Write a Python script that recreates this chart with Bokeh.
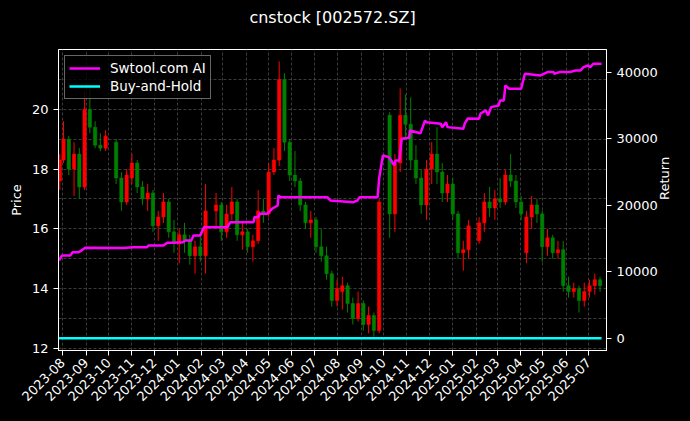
import math
from datetime import datetime
import pandas as pd
from bokeh.plotting import figure
from bokeh.models import (Range1d, LinearAxis, ColumnDataSource, SingleIntervalTicker, FixedTicker,
                          MonthsTicker, DatetimeTickFormatter, Legend, LegendItem, Title)
from bokeh.embed import file_html
from bokeh.resources import INLINE

# ---------------- data ----------------
week_dates = [
    "2023-07-28", "2023-08-02", "2023-08-09", "2023-08-16", "2023-08-23", "2023-08-30",
    "2023-09-06", "2023-09-13", "2023-09-20", "2023-09-27", "2023-10-11", "2023-10-18",
    "2023-10-25", "2023-11-01", "2023-11-08", "2023-11-15", "2023-11-22", "2023-11-29",
    "2023-12-06", "2023-12-13", "2023-12-20", "2023-12-27", "2024-01-03", "2024-01-10",
    "2024-01-17", "2024-01-24", "2024-01-31", "2024-02-07", "2024-02-21", "2024-02-28",
    "2024-03-06", "2024-03-13", "2024-03-20", "2024-03-27", "2024-04-03", "2024-04-10",
    "2024-04-17", "2024-04-24", "2024-05-01", "2024-05-08", "2024-05-15", "2024-05-22",
    "2024-05-29", "2024-06-05", "2024-06-12", "2024-06-19", "2024-06-26", "2024-07-03",
    "2024-07-10", "2024-07-17", "2024-07-24", "2024-07-31", "2024-08-07", "2024-08-14",
    "2024-08-21", "2024-08-28", "2024-09-04", "2024-09-11", "2024-09-18", "2024-09-25",
    "2024-10-09", "2024-10-16", "2024-10-23", "2024-10-30", "2024-11-06", "2024-11-13",
    "2024-11-20", "2024-11-27", "2024-12-04", "2024-12-11", "2024-12-18", "2024-12-25",
    "2025-01-01", "2025-01-08", "2025-01-15", "2025-01-22", "2025-02-05", "2025-02-12",
    "2025-02-19", "2025-02-26", "2025-03-05", "2025-03-12", "2025-03-19", "2025-03-26",
    "2025-04-02", "2025-04-09", "2025-04-16", "2025-04-23", "2025-04-30", "2025-05-07",
    "2025-05-14", "2025-05-21", "2025-05-28", "2025-06-04", "2025-06-11", "2025-06-18",
    "2025-06-25", "2025-07-02", "2025-07-09", "2025-07-16",
]
opens = [
    17.6, 18.3, 19.0, 18.0, 18.5, 17.4, 20.0, 19.4, 18.8, 18.7, 18.9, 17.7,
    16.9, 17.7, 18.2, 17.4, 17.0, 17.2, 16.1, 16.4, 16.9, 15.9, 15.5, 15.8,
    15.6, 15.1, 15.4, 15.1, 16.6, 16.8, 15.9, 16.5, 16.9, 15.8, 15.9, 15.4,
    15.6, 16.6, 16.5, 17.9, 18.3, 21.0, 18.9, 17.8, 17.6, 16.8, 16.2, 16.3,
    15.4, 15.1, 14.5, 13.6, 13.9, 14.1, 13.5, 13.0, 13.5, 12.8, 13.1, 12.6,
    19.8, 16.5, 18.2, 19.8, 19.5, 18.3, 17.7, 16.8, 18.0, 18.5, 17.9, 17.2,
    17.5, 16.5, 15.2, 15.3, 15.6, 16.2, 16.9, 16.7, 17.0, 16.9, 17.8, 17.6,
    16.9, 15.2, 16.4, 16.8, 16.5, 15.4, 15.7, 15.2, 15.3, 14.1, 13.9, 14.0,
    13.6, 13.9, 14.1, 14.3,
]
highs = [
    18.5, 19.6, 19.1, 18.9, 18.7, 20.6, 20.7, 19.6, 19.2, 19.3, 19.0, 17.9,
    18.0, 18.5, 18.3, 17.6, 17.5, 17.3, 16.6, 17.2, 17.0, 16.3, 16.0, 16.2,
    15.8, 15.6, 15.9, 17.5, 17.2, 16.9, 16.8, 17.4, 17.0, 16.2, 16.0, 15.8,
    17.3, 17.0, 18.2, 18.7, 21.6, 21.2, 19.0, 18.6, 17.7, 16.9, 16.6, 16.4,
    16.0, 15.4, 14.6, 14.3, 14.4, 14.2, 13.7, 13.9, 13.6, 13.4, 13.2, 17.0,
    19.9, 18.5, 20.7, 20.5, 20.4, 18.8, 18.0, 18.3, 18.9, 19.4, 18.2, 17.8,
    17.7, 16.6, 15.6, 16.3, 16.4, 17.2, 17.4, 17.3, 17.7, 18.0, 18.5, 17.8,
    17.1, 16.6, 17.1, 17.0, 16.6, 16.0, 15.8, 15.6, 15.6, 14.4, 14.2, 14.1,
    14.2, 14.3, 14.5, 14.4,
]
lows = [
    17.3, 18.2, 17.8, 17.1, 17.0, 17.3, 19.2, 18.7, 18.6, 18.6, 17.5, 16.6,
    16.8, 17.5, 17.2, 16.8, 16.6, 15.9, 15.6, 16.2, 15.7, 15.2, 14.85, 15.2,
    14.8, 14.5, 14.9, 14.5, 16.0, 15.6, 15.7, 16.3, 15.6, 15.3, 15.2, 14.9,
    15.5, 16.2, 16.4, 17.8, 18.1, 18.6, 17.6, 17.4, 16.6, 16.0, 15.7, 15.2,
    14.9, 14.3, 13.4, 13.4, 13.3, 13.2, 12.8, 12.9, 12.6, 12.5, 12.4, 12.5,
    15.7, 15.9, 17.9, 19.0, 18.0, 17.5, 16.5, 16.3, 17.5, 17.5, 16.9, 16.9,
    16.3, 15.0, 14.6, 15.0, 15.5, 15.9, 16.4, 16.3, 16.7, 16.8, 17.4, 16.7,
    16.3, 14.85, 16.0, 16.2, 14.9, 15.1, 15.0, 15.0, 13.9, 13.7, 13.7, 13.2,
    13.4, 13.7, 13.8, 13.9,
]
closes = [
    18.3, 19.0, 18.0, 18.5, 17.4, 20.0, 19.4, 18.8, 18.7, 19.1, 17.7, 16.9,
    17.8, 18.2, 17.4, 17.0, 17.2, 16.1, 16.4, 16.9, 15.9, 15.5, 15.8, 15.6,
    15.1, 15.4, 15.1, 16.6, 16.8, 15.9, 16.5, 16.9, 15.8, 15.9, 15.4, 15.6,
    16.6, 16.5, 17.9, 18.3, 21.0, 18.9, 17.8, 17.6, 16.8, 16.2, 16.3, 15.4,
    15.1, 14.5, 13.6, 14.0, 14.1, 13.5, 13.0, 13.5, 12.8, 13.1, 12.6, 16.9,
    16.5, 18.2, 19.8, 19.5, 18.3, 17.7, 16.8, 18.0, 18.5, 17.9, 17.2, 17.5,
    16.5, 15.2, 15.3, 16.1, 16.2, 16.9, 16.7, 17.0, 16.9, 17.8, 17.6, 16.9,
    16.5, 16.4, 16.8, 16.5, 15.4, 15.7, 15.2, 15.3, 14.1, 13.9, 14.0, 13.6,
    13.9, 14.1, 14.3, 14.1,
]

ai_dates = [
    "2023-07-27", "2023-07-31", "2023-08-11", "2023-08-14", "2023-08-22", "2023-08-24",
    "2023-08-31", "2023-10-20", "2023-11-03", "2023-11-21", "2023-11-23", "2023-12-13",
    "2023-12-18", "2023-12-26", "2024-01-08", "2024-01-11", "2024-01-19", "2024-01-22",
    "2024-01-31", "2024-02-05", "2024-03-07", "2024-03-11", "2024-04-11", "2024-04-12",
    "2024-04-17", "2024-04-19", "2024-04-29", "2024-05-06", "2024-05-13", "2024-05-14",
    "2024-05-17", "2024-07-18", "2024-07-22", "2024-08-22", "2024-08-27", "2024-08-30",
    "2024-09-23", "2024-09-25", "2024-09-30", "2024-10-08", "2024-10-11", "2024-10-15",
    "2024-10-17", "2024-10-22", "2024-10-25", "2024-11-04", "2024-11-05", "2024-11-19",
    "2024-11-25", "2024-11-27", "2024-12-16", "2024-12-18", "2024-12-23", "2024-12-25",
    "2025-01-15", "2025-01-17", "2025-01-21", "2025-02-05", "2025-02-07", "2025-02-14",
    "2025-02-17", "2025-02-21", "2025-03-03", "2025-03-05", "2025-03-10", "2025-03-12",
    "2025-03-17", "2025-04-02", "2025-04-07", "2025-04-28", "2025-05-07", "2025-05-15",
    "2025-05-16", "2025-05-23", "2025-06-06", "2025-06-13", "2025-06-20", "2025-06-24",
    "2025-06-30", "2025-07-03", "2025-07-07", "2025-07-18",
]
ai_returns = [
    11700, 12440, 12440, 12930, 12930, 13050,
    13590, 13560, 13680, 13680, 13940, 13940,
    14350, 14350, 14440, 14690, 14690, 15440,
    15440, 16690, 16690, 17440, 17440, 18200,
    18200, 18700, 18700, 19500, 19950, 21460,
    21200, 21200, 20700, 20450, 20700, 21200,
    21200, 24000, 27470, 27220, 26720, 25970,
    26720, 26720, 30000, 30130, 31230, 30800,
    32700, 32480, 32230, 31730, 32480, 31730,
    31480, 32280, 33030, 33000, 33780, 34240,
    33490, 34740, 34990, 35740, 35740, 38000,
    37500, 37500, 39760, 39500, 40000, 40000,
    39760, 40000, 40000, 40250, 40250, 40750,
    41000, 40750, 41260, 41260,
]

bh_dates = ["2023-07-27", "2025-07-18"]
bh_returns = [0, 0]

price_ticks = [12, 14, 16, 18, 20]
return_ticks = [0, 10000, 20000, 30000, 40000]

# ---------------- figure ----------------
FONT = "DejaVu Sans"

p = figure(width=690, height=421, x_axis_type="datetime", title=None,
           x_range=Range1d(datetime(2023, 7, 26, 7), datetime(2025, 7, 24, 14)),
           y_range=Range1d(11.93, 22.0),
           output_backend="svg", toolbar_location=None,
           background_fill_color="black", border_fill_color="black",
           min_border_left=58, min_border_right=84, min_border_top=49, min_border_bottom=71,
           outline_line_color="white", outline_line_width=1)

# spacer title (blank) then the real title above it
p.add_layout(Title(text=" ", text_font_size="14px", standoff=0), "above")
p.add_layout(Title(text="cnstock [002572.SZ]", align="center", text_color="white",
                   text_font=FONT, text_font_size="16px", text_font_style="normal"), "above")

df = pd.DataFrame({"date": pd.to_datetime(week_dates), "open": opens, "high": highs,
                   "low": lows, "close": closes})
df["top"] = df[["open", "close"]].max(axis=1)
df["bottom"] = df[["open", "close"]].min(axis=1)
df["color"] = ["red" if c >= o else "green" for o, c in zip(df["open"], df["close"])]
src = ColumnDataSource(df)

p.segment(x0="date", y0="low", x1="date", y1="high", source=src, line_color="color", line_width=1)
p.vbar(x="date", width=4.5 * 86400000, top="top", bottom="bottom", source=src,
       fill_color="color", line_color="color", line_width=0.5)

p.extra_y_ranges = {"ret": Range1d(-1850, 43400), "lab": Range1d(0, 301)}
ai_line = p.line(x=pd.to_datetime(ai_dates), y=ai_returns, y_range_name="ret",
                 line_color="#ff00ff", line_width=2.5)
bh_line = p.line(x=pd.to_datetime(bh_dates), y=bh_returns, y_range_name="ret",
                 line_color="#00ffff", line_width=2.5)

right_axis = LinearAxis(y_range_name="ret", ticker=FixedTicker(ticks=return_ticks))
p.add_layout(right_axis, "right")

# axes styling
for ax in [p.xaxis[0], p.yaxis[0], right_axis]:
    ax.axis_line_color = "white"
    ax.major_tick_line_color = "white"
    ax.minor_tick_line_color = None
    ax.major_tick_out = 5
    ax.major_tick_in = 0
    ax.major_label_text_color = "white"
    ax.major_label_text_font = FONT
    ax.major_label_text_font_size = "13px"
    ax.axis_label_text_color = "white"
    ax.axis_label_text_font = FONT
    ax.axis_label_text_font_size = "13px"
    ax.axis_label_text_font_style = "normal"

# carrier axis for the right-hand label (reads bottom-to-top, like the reference)
label_axis = LinearAxis(y_range_name="lab", ticker=FixedTicker(ticks=[]), bounds=(115, 135),
                        axis_label="Return", axis_line_color=None,
                        major_tick_line_color=None, minor_tick_line_color=None,
                        axis_label_orientation=math.pi / 2, axis_label_standoff=4,
                        axis_label_text_color="white", axis_label_text_font=FONT,
                        axis_label_text_font_size="13px", axis_label_text_font_style="normal")
p.add_layout(label_axis, "right")

p.yaxis[0].axis_label = "Price"
p.yaxis[0].ticker = FixedTicker(ticks=price_ticks)

p.xaxis[0].ticker = MonthsTicker(months=list(range(1, 13)))
p.xaxis[0].formatter = DatetimeTickFormatter(months="%Y-%m", days="%Y-%m", years="%Y-%m")
p.xaxis[0].major_label_orientation = math.pi / 4

# grids
p.xgrid.ticker = MonthsTicker(months=list(range(1, 13)))
p.ygrid.ticker = SingleIntervalTicker(interval=1)
for g in [p.xgrid[0], p.ygrid[0]]:
    g.grid_line_color = "#555555"
    g.grid_line_dash = "3 2"
    g.grid_line_width = 0.7

legend = Legend(items=[LegendItem(label="Swtool.com AI", renderers=[ai_line]),
                       LegendItem(label="Buy-and-Hold", renderers=[bh_line])],
                location="top_left")
legend.background_fill_color = "black"
legend.background_fill_alpha = 0.8
legend.border_line_color = "#cccccc"
legend.border_line_width = 1
legend.label_text_color = "white"
legend.label_text_font = FONT
legend.label_text_font_size = "13.5px"
legend.glyph_width = 31
legend.glyph_height = 16
legend.label_height = 16
legend.spacing = 2
legend.padding = 4
legend.margin = 6
legend.label_standoff = 10
p.add_layout(legend, "center")

html = file_html(p, INLINE)
html = html.replace("</head>", "<style>body{background:#000000;}</style></head>")
open("out.html", "w").write(html)
